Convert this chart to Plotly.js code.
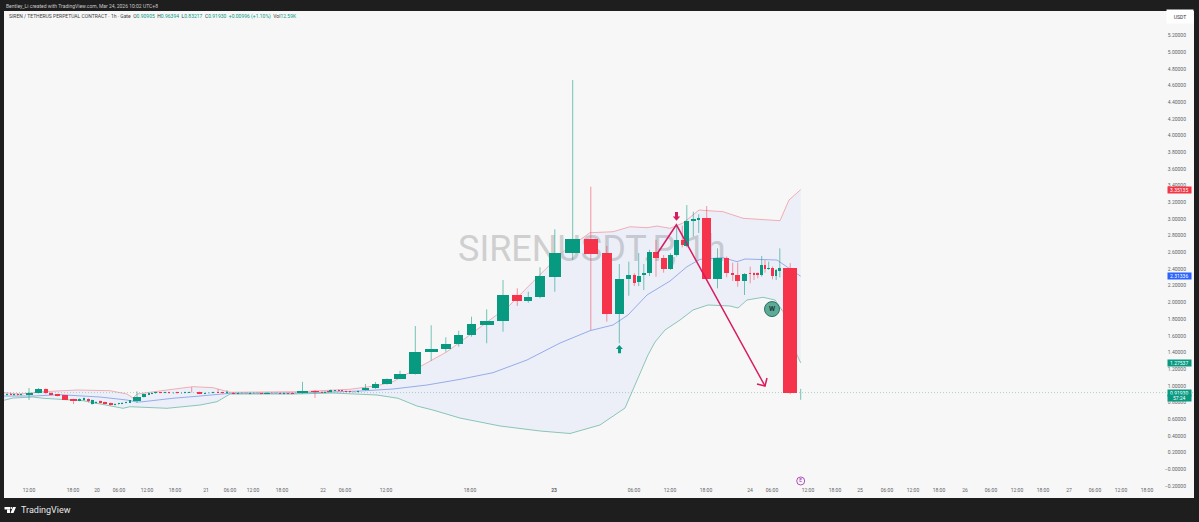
<!DOCTYPE html>
<html><head><meta charset="utf-8">
<script src="https://cdn.plot.ly/plotly-3.0.1.min.js"></script>
<style>html,body{margin:0;padding:0;background:#1e1e1e}#c{width:1199px;height:522px}</style>
</head><body><div id="c"></div>
<script>
// Horizontal axis is TradingView's volume-candle scale, so each candle has its own position and width.
const candleX=[7,10.5,14,17.5,21,29,38.5,45.8,51,57.5,
65,73.5,79.4,84,88.5,92,96,100,105,110.5,
115,118.5,122,126,130,137,143.8,148.5,152,155.5,
160,165,169,173.5,177,181.5,185,189,191.7,199.5,
205,209,213,218,222.5,227,233.5,238,242,246,
250,254,258,261,267,272,276,280,284,288,
292,302.5,315,322,325,328,330.5,335,338.5,342,
346,350,354,358,365.5,375.5,387,400,415.3,431.2,
445.8,458.7,471.5,486.7,503,517.3,528.3,540,554.8,572.7,
590.8,606.8,619.3,628.8,634.3,638.7,643.8,649.5,656,663.6,
670.5,676.7,682.3,686.8,693.3,698.7,706.7,717.5,726.7,732.7,
737.7,744.5,750.2,754,757.8,761.7,765,768.7,772.5,776.2,
779.8,790.2,800.7];
const candleW=[2,2,2,2,2,7,7,3.5,4,5,
6,7,2.7,2.6,3,3,2,3,3.5,4,
2,2,2,2,2,7.4,3.7,2,2,2.5,
3,2,2.5,2,3,2,2,2,1.5,5,
2,2,2,2,2.5,2,3,2.5,2,2.5,
2,2,2,3,6,2,2,2,2,2,
3,11.5,8.6,2,2,2,3,2,2,2,
2,2,2,2,7.3,7.3,9.7,11.4,12,13,
9.7,9.3,9.6,14,12.3,10,8,10.6,12.3,14.7,
13.7,10.3,8.7,5,2.7,4,3.7,4.4,5.7,6,
4.4,5.3,3.3,5,5.3,2.7,9.3,8.4,5.3,3.3,
4.7,5.6,1.7,2,3,3.3,2.6,2.7,3,2.3,
3,13.7,2];
const open=[.895,.905,.89,.90,.89,.89,.918,.966,.918,.899,
.887,.842,.822,.827,.846,.782,.79,.818,.806,.794,
.77,.78,.785,.795,.80,.815,.863,.895,.905,.91,
.926,.915,.925,.91,.925,.91,.915,.92,.93,.926,
.905,.91,.915,.93,.925,.91,.92,.905,.91,.918,
.905,.91,.915,.915,.905,.92,.91,.915,.905,.915,
.915,.914,.942,.93,.92,.935,.926,.94,.95,.945,
.94,.935,.93,.925,.95,.971,1.019,1.086,1.142,1.402,
1.438,1.498,1.613,1.733,1.773,2.089,2.017,2.061,2.308,2.596,
2.760,2.596,1.861,2.284,2.328,2.244,2.325,2.349,2.604,2.532,
2.404,2.564,2.748,2.676,2.972,2.991,3.008,2.277,2.532,2.352,
2.325,2.256,2.356,2.349,2.349,2.325,2.448,2.397,2.412,2.313,
2.380,2.416,.90905];
const high=[.91,.915,.905,.91,.91,.974,.974,.97,.925,.905,
.89,.845,.85,.86,.85,.835,.815,.825,.81,.80,
.79,.795,.805,.81,.83,.935,.91,.915,.92,.93,
.93,.93,.93,.925,.93,.925,.93,.93,.985,.93,
.92,.925,.93,.96,.93,.95,.925,.92,.922,.922,
.92,.92,.92,.92,.925,.925,.92,.92,.92,.92,
.92,1.048,.95,.935,.935,.94,.955,.95,.955,.95,
.945,.94,.935,.945,1.022,1.046,1.09,1.181,1.717,1.726,
1.582,1.661,1.829,1.917,2.268,2.169,2.128,2.421,2.876,4.665,
3.386,2.676,2.460,2.488,2.35,2.592,2.46,2.63,2.748,2.568,
2.59,2.927,2.919,3.167,3.087,3.056,3.155,2.648,2.55,2.476,
2.476,2.352,2.428,2.36,2.36,2.556,2.508,2.488,2.43,2.40,
2.648,2.47,.96394];
const low=[.885,.89,.88,.885,.885,.83,.908,.90,.885,.875,
.83,.782,.815,.82,.80,.775,.785,.79,.78,.765,
.765,.775,.78,.79,.795,.795,.86,.89,.90,.905,
.91,.91,.905,.905,.905,.905,.91,.915,.92,.90,
.90,.905,.91,.915,.91,.905,.90,.90,.905,.905,
.90,.905,.905,.90,.90,.905,.905,.90,.90,.90,
.90,.905,.855,.915,.915,.92,.92,.935,.935,.93,
.925,.92,.92,.92,.945,.965,1.015,1.08,1.135,1.301,
1.409,1.469,1.589,1.510,1.649,1.957,1.996,2.05,2.128,2.508,
1.669,1.769,1.510,2.080,2.196,2.196,2.148,2.316,2.308,2.356,
2.39,2.55,2.66,2.66,2.787,2.832,2.265,2.169,2.301,2.256,
2.188,2.089,2.229,2.268,2.29,2.31,2.356,2.39,2.277,2.268,
2.3,.90,.83217];
const close=[.905,.895,.90,.89,.905,.918,.962,.911,.894,.882,
.834,.822,.846,.854,.815,.83,.81,.794,.782,.77,
.785,.79,.80,.805,.825,.863,.902,.91,.915,.925,
.914,.925,.91,.92,.912,.92,.925,.925,.925,.906,
.915,.92,.925,.92,.915,.925,.903,.915,.918,.91,
.915,.915,.91,.905,.92,.91,.915,.905,.915,.905,
.905,.942,.926,.92,.93,.925,.95,.945,.94,.935,
.93,.925,.925,.94,.978,1.022,1.086,1.142,1.406,1.441,
1.501,1.613,1.738,1.777,2.089,2.017,2.061,2.316,2.596,2.760,
2.584,1.861,2.284,2.325,2.236,2.316,2.352,2.604,2.532,2.404,
2.564,2.748,2.684,2.972,2.996,3.008,2.277,2.532,2.349,2.325,
2.256,2.340,2.337,2.332,2.325,2.448,2.397,2.412,2.313,2.385,
2.416,.911,.9193];

const upperX=[4,20,43,77,110,127,133,137,167,193,213,230,300,320,350,367,380,393,405,423,437,447,463,497,510,533,563,590,613,630,647,657,670,683,699,723,743,780,789,800.7];
const upper=[.918,.902,.930,.950,.942,.902,.854,.902,.950,.990,.978,.923,.930,.942,.959,.986,1.01,1.05,1.13,1.25,1.346,1.409,1.549,1.849,1.969,2.248,2.607,2.835,2.847,2.907,2.895,2.915,2.888,2.951,3.107,3.087,3.008,2.979,3.227,3.35135];
const basisX=[4,33,60,100,127,137,143,173,200,230,300,360,393,427,460,493,527,560,590,613,628,647,670,687,700,723,737,745,777,787,800.7];
const basis=[.878,.878,.894,.866,.830,.806,.810,.851,.878,.911,.914,.938,.962,1.01,1.078,1.158,1.31,1.513,1.661,1.729,1.849,2.089,2.256,2.428,2.516,2.536,2.488,2.52,2.508,2.424,2.31336];
const lowerX=[4,13,33,43,83,113,123,130,167,200,217,230,293,333,367,377,398,417,433,460,500,540,570,600,625,632,640,648,655,665,680,693,708,730,738,747,763,775,783,790,797,800.7];
const lower=[.827,.854,.866,.851,.822,.75,.731,.75,.731,.77,.81,.902,.902,.914,.902,.89,.851,.758,.71,.614,.519,.459,.429,.531,.734,.926,1.166,1.37,1.525,1.669,1.789,1.909,1.969,1.957,1.933,2.029,2.061,2.029,1.889,1.669,1.37,1.27537];

const drawnLineX=[657,676.4,765];
const drawnLineY=[2.58,2.93,.998];
const drawnHeadX=[757,765,767];
const drawnHeadY=[1.022,.998,1.094];
const sellArrowX=[675,678,678,680.2,676.5,672.8,675,675];
const sellArrowY=[3.083,3.083,3.029,3.029,2.979,3.029,3.029,3.083];
const buyArrowX=[618,621,621,622.9,619.4,615.9,618,618];
const buyArrowY=[1.39,1.39,1.441,1.441,1.489,1.441,1.441,1.39];

const priceTicks=[-.2,0,.2,.4,.6,.8,1,1.2,1.4,1.6,1.8,2,2.2,2.4,2.6,2.8,3,3.2,3.4,3.6,3.8,4,4.2,4.4,4.6,4.8,5,5.2];
const priceTickText=["\u22120.20000","\u22120.00000","0.20000","0.40000","0.60000","0.80000","1.00000","1.20000","1.40000","1.60000","1.80000","2.00000","2.20000","2.40000","2.60000","2.80000","3.00000","3.20000","3.40000","3.60000","3.80000","4.00000","4.20000","4.40000","4.60000","4.80000","5.00000","5.20000"];
const timeTicks=[29,73,97,119,147,175,206,230,253,282,323,345,386,470,554,634,670,706,750,772,808,835,860,887,913,939,965,991,1017,1043,1069,1095,1121,1147];
const timeText=["12:00","18:00","20","06:00","12:00","18:00","21","06:00","12:00","18:00","22","06:00","12:00","18:00","<b>23</b>","06:00","12:00","18:00","24","06:00","12:00","18:00","25","06:00","12:00","18:00","26","06:00","12:00","18:00","27","06:00","12:00","18:00"];

const UP="#089981",DOWN="#f5344c",PINK="#d81b60",FONT="Roboto, sans-serif";
const XR=[4,1194],YR=[-.344,5.492];
const isUp=close.map((c,i)=>c>=open[i]);
function wicks(flag){const x=[],y=[];candleX.forEach((v,i)=>{if(isUp[i]===flag){x.push(v,v,null);y.push(low[i],high[i],null);}});return {x,y};}
const wu=wicks(true),wd=wicks(false);

const data=[
 {x:[458],y:[2.6],mode:"text",text:["SIRENUSDT.P, 1h"],textfont:{family:FONT,size:36,color:"#cfcfcf"},textposition:"middle right",cliponaxis:false},
 {x:upperX.concat(lowerX.slice().reverse()),y:upper.concat(lower.slice().reverse()),mode:"lines",fill:"toself",fillcolor:"rgba(41,98,255,0.05)",line:{width:0}},
 {x:upperX,y:upper,mode:"lines",line:{color:"#f09aa4",width:.8}},
 {x:basisX,y:basis,mode:"lines",line:{color:"#7f9be8",width:.8}},
 {x:lowerX,y:lower,mode:"lines",line:{color:"#6fb9a6",width:.8}},
 {x:XR,y:[.9193,.9193],mode:"lines",line:{color:"rgba(95,181,164,.75)",width:.7,dash:"1px,2px"}},
 {x:wu.x,y:wu.y,mode:"lines",line:{color:"rgba(8,153,129,.55)",width:1}},
 {x:wd.x,y:wd.y,mode:"lines",line:{color:"rgba(245,52,76,.5)",width:1}},
 {type:"bar",xaxis:"x2",yaxis:"y2",x:candleX,width:candleW,base:open,y:close.map((c,i)=>c-open[i]),marker:{color:isUp.map(u=>u?UP:DOWN),line:{width:0}}},
 {xaxis:"x3",yaxis:"y3",x:drawnLineX,y:drawnLineY,mode:"lines",line:{color:PINK,width:1.5}},
 {xaxis:"x3",yaxis:"y3",x:drawnHeadX,y:drawnHeadY,mode:"lines",line:{color:PINK,width:1.5}},
 {xaxis:"x3",yaxis:"y3",x:sellArrowX,y:sellArrowY,mode:"lines",fill:"toself",fillcolor:PINK,line:{width:0}},
 {xaxis:"x3",yaxis:"y3",x:buyArrowX,y:buyArrowY,mode:"lines",fill:"toself",fillcolor:UP,line:{width:0}},
 {xaxis:"x3",yaxis:"y3",x:[772],y:[1.92],mode:"markers+text",text:["<b>W</b>"],textposition:"middle center",textfont:{family:FONT,size:7,color:"#1f3b35"},marker:{size:15,color:"#5cab98",line:{color:"#2c6e60",width:1}}},
 {xaxis:"x3",yaxis:"y3",x:[800.7],y:[-.14],mode:"markers+text",text:["E"],textposition:"middle center",textfont:{family:FONT,size:5,color:"#9c27b0"},marker:{size:8,color:"#f7f7f7",line:{color:"#9c27b0",width:.8}}}
];

const W=1190,H=487;
const px=v=>(v-4)/W, py=v=>1-(v-11)/H;
function priceLabel(v,txt,bg,h){return {xref:"x",yref:"y",x:1179,xanchor:"center",y:v,text:txt,showarrow:false,bgcolor:bg,width:22.5,height:h,borderpad:0,font:{family:FONT,size:5,color:"#ffffff"},align:"center",valign:"middle"};}
const hidden={visible:false,fixedrange:true};
const layout={
 width:1199,height:522,showlegend:false,hovermode:false,dragmode:false,
 margin:{l:4,r:5,t:11,b:24,pad:0},paper_bgcolor:"#1e1e1e",plot_bgcolor:"#f7f7f7",bargap:0,barmode:"overlay",
 xaxis:{range:XR,tickmode:"array",tickvals:timeTicks,ticktext:timeText,ticks:"",showgrid:false,zeroline:false,showline:false,fixedrange:true,ticklabelposition:"inside",ticklabelstandoff:2,tickfont:{family:FONT,size:5,color:"#5f6368"},tickangle:0},
 yaxis:{range:YR,side:"right",tickmode:"array",tickvals:priceTicks,ticktext:priceTickText,ticks:"",showgrid:false,zeroline:false,showline:false,fixedrange:true,ticklabelposition:"inside",ticklabelstandoff:5,tickfont:{family:FONT,size:5,color:"#5f6368"}},
 xaxis2:Object.assign({range:XR,overlaying:"x"},hidden),
 yaxis2:Object.assign({range:YR,overlaying:"y"},hidden),
 xaxis3:Object.assign({range:XR,overlaying:"x"},hidden),
 yaxis3:Object.assign({range:YR,overlaying:"y"},hidden),
 annotations:[
  {xref:"paper",yref:"paper",x:px(4),y:py(6),xanchor:"left",yanchor:"middle",showarrow:false,font:{family:FONT,size:5,color:"#c9c9c9"},text:"Bentley_Li created with TradingView.com, Mar 24, 2026 10:02 UTC+8"},
  {xref:"paper",yref:"paper",x:px(7),y:py(17),xanchor:"left",yanchor:"middle",showarrow:false,font:{family:FONT,size:5,color:"#3c3c3c"},
   text:'SIREN / TETHERUS PERPETUAL CONTRACT · 1h · Gate  O<span style="color:#089981">0.90905</span>  H<span style="color:#089981">0.96394</span>  L<span style="color:#089981">0.83217</span>  C<span style="color:#089981">0.91930</span>  <span style="color:#089981">+0.00996 (+1.10%)</span>  Vol<span style="color:#089981">12.59K</span>'},
  {xref:"paper",yref:"paper",x:px(1180),xanchor:"center",y:py(16.5),yanchor:"middle",showarrow:false,bgcolor:"#ffffff",width:24,height:11,font:{family:FONT,size:5,color:"#333333"},text:"USDT"},
  priceLabel(3.35135,"3.35135","#f23645",6.3),
  priceLabel(2.31336,"2.31336","#2962ff",6.3),
  priceLabel(1.27537,"1.27537","#089981",6.3),
  priceLabel(.917,"0.91930","#089981",5.5),
  priceLabel(.851,"57:24","#089981",5.5),
  {xref:"paper",yref:"paper",x:px(19),y:py(510),xanchor:"left",yanchor:"middle",showarrow:false,font:{family:FONT,size:9,color:"#e8e8e8"},text:"TradingView"}
 ],
 shapes:[
  {type:"rect",xref:"paper",yref:"paper",x0:px(4.5),x1:px(10),y0:py(507),y1:py(509.5),fillcolor:"#fff",line:{width:0}},
  {type:"rect",xref:"paper",yref:"paper",x0:px(7),x1:px(10),y0:py(509.5),y1:py(513),fillcolor:"#fff",line:{width:0}},
  {type:"circle",xref:"paper",yref:"paper",x0:px(10.3),x1:px(12.3),y0:py(507),y1:py(509),fillcolor:"#fff",line:{width:0}},
  {type:"path",xref:"paper",yref:"paper",path:`M${px(13)},${py(507)} L${px(16)},${py(507)} L${px(13.5)},${py(513)} L${px(10.5)},${py(513)} Z`,fillcolor:"#fff",line:{width:0}}
 ]
};
Plotly.newPlot("c",data,layout,{staticPlot:true,displayModeBar:false});
</script></body></html>
